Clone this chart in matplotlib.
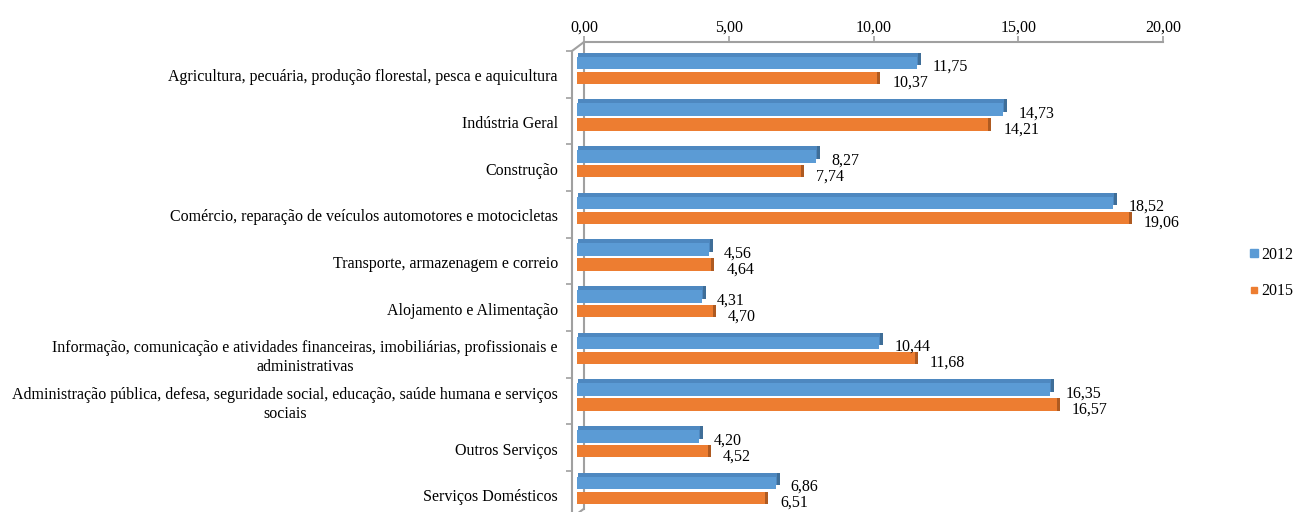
import matplotlib.pyplot as plt
import matplotlib.transforms as mtransforms
from matplotlib.lines import Line2D
import numpy as np

categories = [
    'Agricultura, pecuária, produção florestal, pesca e aquicultura',
    'Indústria Geral',
    'Construção',
    'Comércio, reparação de veículos automotores e motocicletas',
    'Transporte, armazenagem e correio',
    'Alojamento e Alimentação',
    'Informação, comunicação e atividades financeiras, imobiliárias, profissionais e\nadministrativas',
    'Administração pública, defesa, seguridade social, educação, saúde humana e serviços\nsociais',
    'Outros Serviços',
    'Serviços Domésticos',
]
values_2012 = [11.75, 14.73, 8.27, 18.52, 4.56, 4.31, 10.44, 16.35, 4.20, 6.86]
values_2015 = [10.37, 14.21, 7.74, 19.06, 4.64, 4.70, 11.68, 16.57, 4.52, 6.51]
series_names = ['2012', '2015']
x_ticks = [0, 5, 10, 15, 20]
x_tick_labels = ['0,00', '5,00', '10,00', '15,00', '20,00']

BLUE = '#5B9BD5'
BLUE_TOP = '#4E88C0'
BLUE_DARK = '#3F6E98'
ORANGE = '#ED7D31'
ORANGE_DARK = '#AE5A21'
GRAY = '#A0A0A0'
FS = 11.5

plt.rcParams['font.family'] = ['Liberation Serif', 'DejaVu Serif']

fig = plt.figure(figsize=(13.02, 5.12), dpi=100)
W, H = 1302, 512
ax = fig.add_axes([584 / W, 1 - 508.7 / H, (1163 - 584) / W, 466.7 / H])


def shift(dx, dy):
    # offset in pixels, dy positive = down
    return mtransforms.ScaledTranslation(dx / 100, -dy / 100, fig.dpi_scale_trans)


y = np.arange(len(categories))
h = 0.27

# 3d-ish bars: darker back/side faces, then front face shifted down-left
ax.barh(y + 0.16, values_2015, h, color=ORANGE_DARK, lw=0, clip_on=False,
        transform=ax.transData + shift(-4, 5), zorder=2)
ax.barh(y + 0.16, values_2015, h, color=ORANGE, lw=0,
        clip_on=False, transform=ax.transData + shift(-7, 5), zorder=3)
ax.barh(y - 0.16, values_2012, h, color=BLUE_DARK, lw=0, clip_on=False,
        transform=ax.transData + shift(-3, 1), zorder=4)
ax.barh(y - 0.16, values_2012, h, color=BLUE_TOP, lw=0, clip_on=False,
        transform=ax.transData + shift(-6, 1), zorder=4)
ax.barh(y - 0.16, values_2012, h, color=BLUE, lw=0,
        clip_on=False, transform=ax.transData + shift(-7, 5), zorder=5)

# value labels
for vals, off, dy in [(values_2012, -0.16, 9), (values_2015, 0.16, 10)]:
    for yi, v in zip(y, vals):
        ax.annotate(f'{v:.2f}'.replace('.', ','), (v, yi + off),
                    xytext=(8, -dy), textcoords='offset pixels',
                    ha='left', va='center', fontsize=FS, zorder=6,
                    annotation_clip=False)

ax.set_xlim(0, 20)
ax.set_ylim(len(categories) - 0.5, -0.5)

# category labels on the front wall
blend = mtransforms.blended_transform_factory(ax.transAxes, ax.transData)
for yi, cat in zip(y, categories):
    ax.text(0, yi, cat, transform=blend + shift(-26, 12), ha='right',
            va='center', multialignment='center', fontsize=FS,
            linespacing=1.25)

ax.set_yticks([])
ax.xaxis.tick_top()
ax.set_xticks(x_ticks, x_tick_labels)
ax.tick_params(axis='x', length=4, width=1.2, color=GRAY, pad=0.5, labelsize=FS)

for side in ['right', 'bottom']:
    ax.spines[side].set_visible(False)
for side in ['top', 'left']:
    ax.spines[side].set_color(GRAY)
    ax.spines[side].set_linewidth(1.5)
    ax.spines[side].set_zorder(1)

# front wall
ax.plot([0, 0], [1, -0.05], transform=ax.transAxes + shift(-12, 9),
        color=GRAY, lw=1.5, clip_on=False, zorder=1)
for ya in [1, 0]:
    ax.annotate('', xy=(0, ya), xycoords='axes fraction', xytext=(-12, -9),
                textcoords='offset pixels',
                arrowprops=dict(arrowstyle='-', color=GRAY, lw=1.5,
                                shrinkA=0, shrinkB=0))
bounds = np.arange(len(categories) + 1) - 0.5
ax.plot(np.zeros(len(bounds)), bounds, ls='none', marker='_', ms=5, mew=1.2,
        color=GRAY, transform=blend + shift(-15.5, 9), clip_on=False)

handles = [Line2D([], [], ls='none', marker='s', ms=5.5, color=BLUE),
           Line2D([], [], ls='none', marker='s', ms=3.8, color=ORANGE)]
fig.legend(handles, series_names, loc='center left',
           bbox_to_anchor=(1249 / W, 1 - 273 / H), frameon=False, fontsize=FS,
           handlelength=0.6, handletextpad=0.15, labelspacing=1.3,
           borderpad=0, borderaxespad=0)

fig.savefig('out.png', dpi=100)
